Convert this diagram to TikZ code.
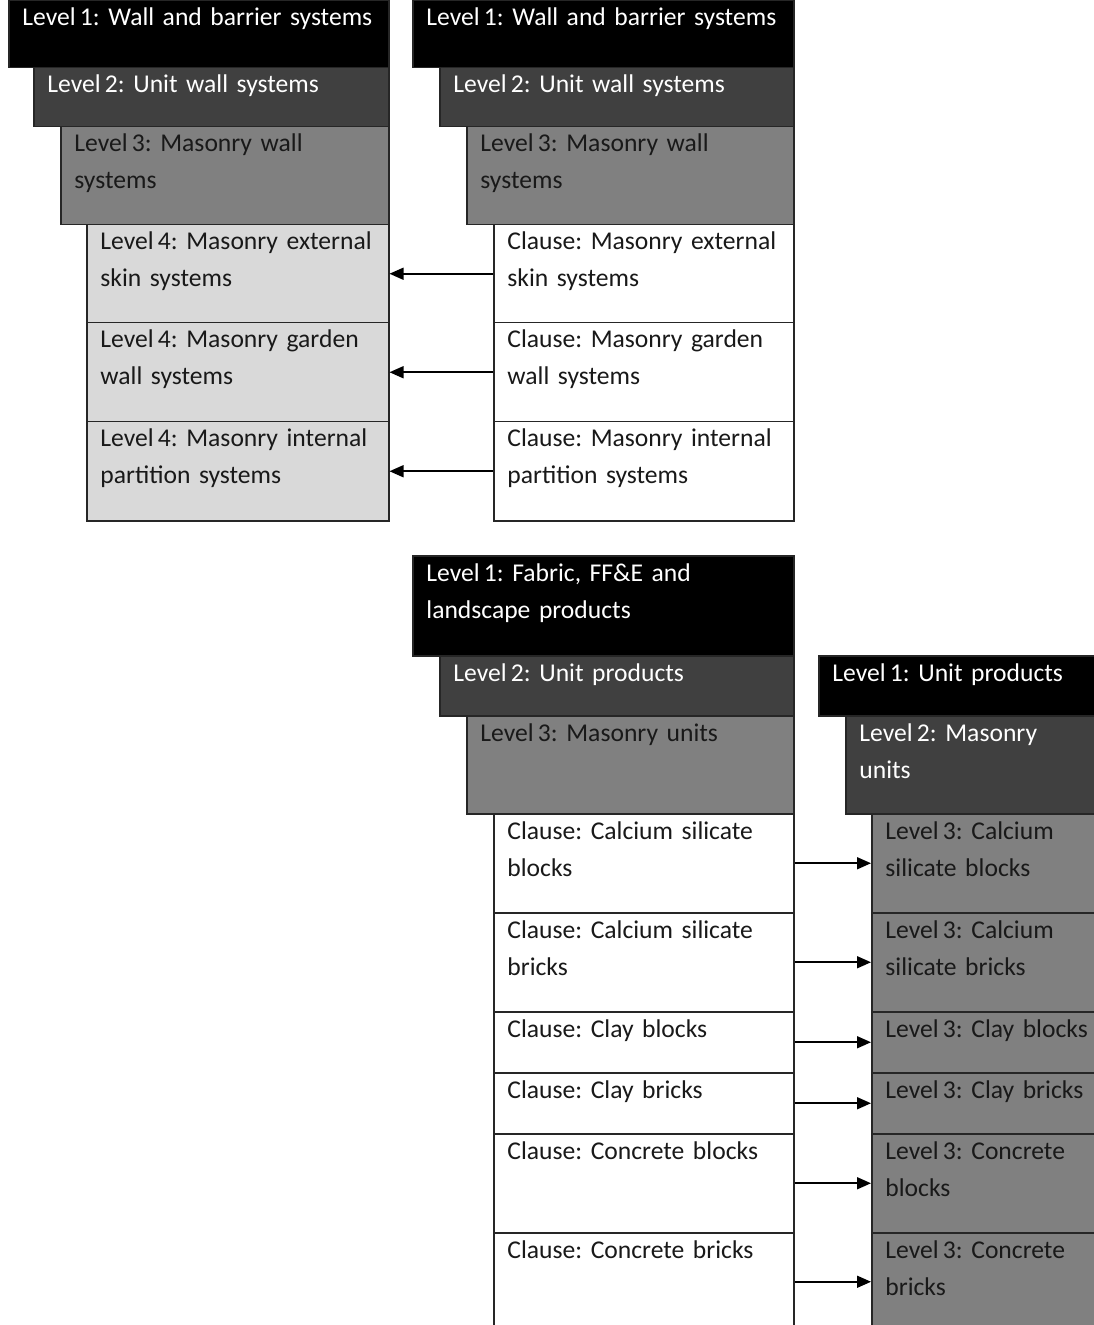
\documentclass[tikz,border=0pt]{standalone}
\usepackage{fontspec}
\setmainfont{Carlito}
\frenchspacing
\usepackage{tikz}
\usetikzlibrary{arrows.meta}

\begin{document}
\begin{tikzpicture}[x=0.5pt,y=-0.5pt,
    box/.style={draw=black!85,line width=0.75pt,anchor=north west,inner sep=0pt},
    lone/.style={box,fill=black},
    ltwo/.style={box,fill=black!75},
    lthree/.style={box,fill=black!50},
    lfour/.style={box,fill=black!15},
    clause/.style={box,fill=white},
    txt/.style={anchor=base west,xshift=7pt,yshift=-13pt,inner sep=0pt,text width=180pt,align=left,
        font=\fontsize{12.8}{18.5}\selectfont,text=black!90},
    wtxt/.style={txt,text=white},
    arr/.style={-{Triangle[length=7pt,width=6pt]},line width=0.8pt}]
    \useasboundingbox (0,0) rectangle (1093,1325);

    % wall and barrier systems, levels
    \node[lone,minimum width=190pt,minimum height=33.5pt] (a1) at (8,0) {};
    \node[ltwo,minimum width=177.5pt,minimum height=29.5pt] (a2) at (33,67) {};
    \node[lthree,minimum width=164pt,minimum height=49pt] (a3) at (60,126) {};
    \node[lfour,minimum width=151pt,minimum height=49pt] (a4) at (86,224) {};
    \node[lfour,minimum width=151pt,minimum height=49.5pt] (a5) at (86,322) {};
    \node[lfour,minimum width=151pt,minimum height=49.5pt] (a6) at (86,421) {};
    \node[wtxt] (a1t) at (a1.north west) {Level\,1: Wall and barrier systems};
    \node[wtxt] (a2t) at (a2.north west) {Level\,2: Unit wall systems};
    \node[txt] (a3t) at (a3.north west) {Level\,3: Masonry wall\\systems};
    \node[txt] (a4t) at (a4.north west) {Level\,4: Masonry external\\skin systems};
    \node[txt] (a5t) at (a5.north west) {Level\,4: Masonry garden\\wall systems};
    \node[txt] (a6t) at (a6.north west) {Level\,4: Masonry internal\\partition systems};

    % wall and barrier systems, clauses
    \node[lone,minimum width=190.5pt,minimum height=33.5pt] (b1) at (412,0) {};
    \node[ltwo,minimum width=177pt,minimum height=29.5pt] (b2) at (439,67) {};
    \node[lthree,minimum width=163.5pt,minimum height=49pt] (b3) at (466,126) {};
    \node[clause,minimum width=150pt,minimum height=49pt] (b4) at (493,224) {};
    \node[clause,minimum width=150pt,minimum height=49.5pt] (b5) at (493,322) {};
    \node[clause,minimum width=150pt,minimum height=49.5pt] (b6) at (493,421) {};
    \node[wtxt] (b1t) at (b1.north west) {Level\,1: Wall and barrier systems};
    \node[wtxt] (b2t) at (b2.north west) {Level\,2: Unit wall systems};
    \node[txt] (b3t) at (b3.north west) {Level\,3: Masonry wall\\systems};
    \node[txt] (b4t) at (b4.north west) {Clause: Masonry external\\skin systems};
    \node[txt] (b5t) at (b5.north west) {Clause: Masonry garden\\wall systems};
    \node[txt] (b6t) at (b6.north west) {Clause: Masonry internal\\partition systems};

    % fabric, FF&E and landscape products
    \node[lone,minimum width=190.5pt,minimum height=50pt] (c1) at (412,555) {};
    \node[ltwo,minimum width=177pt,minimum height=30pt] (c2) at (439,655) {};
    \node[lthree,minimum width=163.5pt,minimum height=49pt] (c3) at (466,715) {};
    \node[clause,minimum width=150pt,minimum height=49.5pt] (c4) at (493,813) {};
    \node[clause,minimum width=150pt,minimum height=49.5pt] (c5) at (493,912) {};
    \node[clause,minimum width=150pt,minimum height=30.5pt] (c6) at (493,1011) {};
    \node[clause,minimum width=150pt,minimum height=30.5pt] (c7) at (493,1072) {};
    \node[clause,minimum width=150pt,minimum height=49.5pt] (c8) at (493,1133) {};
    \node[clause,minimum width=150pt,minimum height=49pt] (c9) at (493,1232) {};
    \node[wtxt] (c1t) at (c1.north west) {Level\,1: Fabric, FF\&E and\\landscape products};
    \node[wtxt] (c2t) at (c2.north west) {Level\,2: Unit products};
    \node[txt] (c3t) at (c3.north west) {Level\,3: Masonry units};
    \node[txt] (c4t) at (c4.north west) {Clause: Calcium silicate\\blocks};
    \node[txt] (c5t) at (c5.north west) {Clause: Calcium silicate\\bricks};
    \node[txt] (c6t) at (c6.north west) {Clause: Clay blocks};
    \node[txt] (c7t) at (c7.north west) {Clause: Clay bricks};
    \node[txt] (c8t) at (c8.north west) {Clause: Concrete blocks};
    \node[txt] (c9t) at (c9.north west) {Clause: Concrete bricks};

    % unit products
    \node[lone,minimum width=140pt,minimum height=30pt] (d1) at (818,655) {};
    \node[ltwo,minimum width=126.5pt,minimum height=49pt] (d2) at (845,715) {};
    \node[lthree,minimum width=113.5pt,minimum height=49.5pt] (d3) at (871,813) {};
    \node[lthree,minimum width=113.5pt,minimum height=49.5pt] (d4) at (871,912) {};
    \node[lthree,minimum width=113.5pt,minimum height=30.5pt] (d5) at (871,1011) {};
    \node[lthree,minimum width=113.5pt,minimum height=30.5pt] (d6) at (871,1072) {};
    \node[lthree,minimum width=113.5pt,minimum height=49.5pt] (d7) at (871,1133) {};
    \node[lthree,minimum width=113.5pt,minimum height=49pt] (d8) at (871,1232) {};
    \node[wtxt] (d1t) at (d1.north west) {Level\,1: Unit products};
    \node[wtxt] (d2t) at (d2.north west) {Level\,2: Masonry\\units};
    \node[txt] (d3t) at (d3.north west) {Level\,3: Calcium\\silicate blocks};
    \node[txt] (d4t) at (d4.north west) {Level\,3: Calcium\\silicate bricks};
    \node[txt] (d5t) at (d5.north west) {Level\,3: Clay blocks};
    \node[txt] (d6t) at (d6.north west) {Level\,3: Clay bricks};
    \node[txt] (d7t) at (d7.north west) {Level\,3: Concrete\\blocks};
    \node[txt] (d8t) at (d8.north west) {Level\,3: Concrete\\bricks};

    \draw[arr] (b4.west) -- (a4.east);
    \draw[arr] (b5.west) -- (a5.east);
    \draw[arr] (b6.west) -- (a6.east);
    \draw[arr] (c4.east) -- (d3.west);
    \draw[arr] (c5.east) -- (d4.west);
    \draw[arr] (c6.east) -- (d5.west);
    \draw[arr] (c7.east) -- (d6.west);
    \draw[arr] (c8.east) -- (d7.west);
    \draw[arr] (c9.east) -- (d8.west);
\end{tikzpicture}
\end{document}
